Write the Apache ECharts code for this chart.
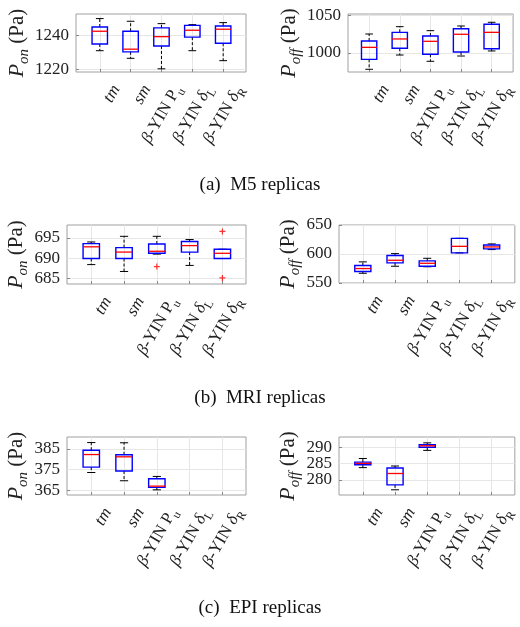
<!DOCTYPE html>
<html><head><meta charset="utf-8">
<script src="https://cdn.jsdelivr.net/npm/echarts@6/dist/echarts.min.js"></script>
<style>html,body{margin:0;padding:0;background:#fff}#c{width:520px;height:627px}</style>
</head><body><div id="c"></div>
<script>
// ---------- data ----------
const categories = ['tm', 'sm', 'β-YIN P', 'β-YIN δ', 'β-YIN δ'];
const categorySubs = ['', '', 'u', 'L', 'R'];
const captions = ['(a)  M5 replicas', '(b)  MRI replicas', '(c)  EPI replicas'];
const yNameSubs = ['on', 'off'];

// each box: [lower whisker, Q1, median, Q3, upper whisker]
const m5On = [
  [1231.1, 1235.1, 1242.6, 1245.1, 1250.1],
  [1226.6, 1230.4, 1232.0, 1242.6, 1248.5],
  [1220.4, 1233.9, 1239.4, 1244.6, 1247.1],
  [1231.1, 1239.1, 1243.2, 1246.1, 1246.5],
  [1225.2, 1235.5, 1243.8, 1245.7, 1247.7]
];
const m5Off = [
  [978.4, 991.6, 1007.5, 1015.9, 1025.2],
  [997.3, 1006.2, 1018.6, 1027.4, 1034.9],
  [989.0, 998.3, 1015.5, 1022.5, 1029.6],
  [996.0, 1001.3, 1024.8, 1032.2, 1035.8],
  [1002.7, 1005.7, 1027.4, 1038.1, 1040.7]
];
const mriOn = [
  [688.4, 689.9, 692.8, 693.6, 694.0],
  [686.7, 689.9, 691.5, 692.6, 695.4],
  [691.0, 691.2, 691.7, 693.5, 695.4],
  [688.2, 691.5, 693.1, 694.1, 694.6],
  [689.9, 689.9, 691.2, 692.2, 692.2]
];
const mriOff = [
  [566.8, 569.8, 574.9, 580.1, 586.4],
  [578.9, 584.7, 589.2, 597.3, 600.7],
  [578.0, 578.9, 584.0, 588.1, 592.6],
  [601.9, 601.9, 613.2, 627.0, 627.0],
  [607.6, 608.8, 612.2, 615.6, 617.4]
];
const epiOn = [
  [373.5, 376.1, 382.2, 384.3, 388.0],
  [369.5, 374.2, 381.1, 382.1, 387.9],
  [365.1, 366.3, 366.9, 370.5, 371.6]
];
const epiOff = [
  [283.8, 284.7, 285.1, 285.5, 286.6],
  [277.0, 278.5, 282.0, 283.7, 284.3],
  [289.1, 290.05, 290.5, 290.8, 291.4]
];
// outliers: [category number (1-based), value]
const mriOnOutliers = [[3, 687.9], [5, 696.6], [5, 685.1]];

const m5OnTicks = [1220, 1240];
const m5OffTicks = [1000, 1050];
const mriOnTicks = [685, 690, 695];
const mriOffTicks = [550, 600, 650];
const epiOnTicks = [365, 375, 385];
const epiOffTicks = [280, 285, 290];

// ---------- layout ----------
const serif = 'Liberation Serif';
const catPositions = categories.map((_, i) => i + 1);
const panels = [
  {data: m5On,  out: [], ticks: m5OnTicks,  sub: yNameSubs[0], grid: {left: 76,  top: 14,  width: 170, height: 58}, x: [0.23, 5.74], y: [1218.5, 1252.8], gap: 36},
  {data: m5Off, out: [], ticks: m5OffTicks, sub: yNameSubs[1], grid: {left: 348, top: 14,  width: 170, height: 58}, x: [0.31, 5.70], y: [974.8, 1051.7], gap: 41},
  {data: mriOn, out: mriOnOutliers, ticks: mriOnTicks, sub: yNameSubs[0], grid: {left: 67, top: 225, width: 179, height: 59}, x: [0.26, 5.72], y: [683.6, 698.2], gap: 31},
  {data: mriOff, out: [], ticks: mriOffTicks, sub: yNameSubs[1], grid: {left: 339, top: 225, width: 179, height: 58}, x: [0.26, 5.72], y: [550, 650], gap: 32},
  {data: epiOn, out: [], ticks: epiOnTicks, sub: yNameSubs[0], grid: {left: 67, top: 437, width: 179, height: 58}, x: [0.26, 5.72], y: [362.6, 390.7], gap: 31},
  {data: epiOff, out: [], ticks: epiOffTicks, sub: yNameSubs[1], grid: {left: 339, top: 437, width: 179, height: 58}, x: [0.26, 5.72], y: [275.4, 293.2], gap: 33}
];
const captionTops = [173, 386, 596];

function richMain(str) {
  let out = '', buf = '';
  for (const ch of str) {
    if ('βδ'.includes(ch)) { if (buf) { out += '{r|' + buf + '}'; buf = ''; } out += '{g|' + ch + '}'; }
    else buf += ch;
  }
  if (buf) out += '{r|' + buf + '}';
  return out;
}
function catLabel(v) {
  const i = Math.round(v) - 1;
  const main = categories[i], sub = categorySubs[i];
  if (!/[βδ]/.test(main)) return '{i|' + main + '}';
  return richMain(main) + (sub ? '{s|' + sub + '}' : '');
}
// label list so that the min/max-label overlap rule of ECharts keeps every tick label:
// the interior labels are listed after the end labels (and the last one repeated)
function labelValues(ticks) {
  if (ticks.length < 3) return ticks.slice();
  const ends = [ticks[0], ticks[ticks.length - 1]];
  const inner = ticks.slice(1, -1);
  return ends.concat(inner, inner[inner.length - 1]);
}
const xRich = {
  i: {fontFamily: serif, fontStyle: 'italic', fontSize: 17, lineHeight: 24, color: '#222'},
  g: {fontFamily: serif, fontStyle: 'italic', fontSize: 17, lineHeight: 24, color: '#222'},
  r: {fontFamily: serif, fontSize: 17, lineHeight: 24, color: '#222'},
  s: {fontFamily: serif, fontSize: 12, lineHeight: 12, verticalAlign: 'bottom', color: '#222'}
};
const nameRich = {
  p: {fontFamily: serif, fontStyle: 'italic', fontSize: 22, lineHeight: 28, color: '#222'},
  s: {fontFamily: serif, fontStyle: 'italic', fontSize: 15, lineHeight: 15, verticalAlign: 'bottom', color: '#222'},
  n: {fontFamily: serif, fontSize: 21, lineHeight: 28, color: '#222'}
};

function renderBox(params, api) {
  const x = api.value(0);
  const pLo = api.coord([x, api.value(1)]);
  const pQ1 = api.coord([x, api.value(2)]);
  const pMed = api.coord([x, api.value(3)]);
  const pQ3 = api.coord([x, api.value(4)]);
  const pHi = api.coord([x, api.value(5)]);
  const bw = api.size([0.5, 0])[0];
  const cw = bw / 2;
  const cx = pMed[0];
  const dash = {stroke: '#000', lineWidth: 1, lineDash: [3, 2], fill: null};
  const solid = {stroke: '#000', lineWidth: 1, fill: null};
  return {
    type: 'group',
    children: [
      {type: 'line', shape: {x1: cx, y1: pQ3[1], x2: cx, y2: pHi[1]}, style: dash},
      {type: 'line', shape: {x1: cx, y1: pQ1[1], x2: cx, y2: pLo[1]}, style: dash},
      {type: 'line', shape: {x1: cx - cw / 2, y1: pHi[1], x2: cx + cw / 2, y2: pHi[1]}, style: solid},
      {type: 'line', shape: {x1: cx - cw / 2, y1: pLo[1], x2: cx + cw / 2, y2: pLo[1]}, style: solid},
      {type: 'rect', shape: {x: cx - bw / 2, y: pQ3[1], width: bw, height: pQ1[1] - pQ3[1]},
        style: {stroke: '#0000ff', lineWidth: 1.4, fill: 'rgba(0,0,0,0)'}},
      {type: 'line', shape: {x1: cx - bw / 2, y1: pMed[1], x2: cx + bw / 2, y2: pMed[1]},
        style: {stroke: '#ff0000', lineWidth: 1.3}}
    ]
  };
}

const grids = [], xAxes = [], yAxes = [], series = [];
panels.forEach((p, i) => {
  grids.push(Object.assign({show: true, borderColor: '#a0a0a0', borderWidth: 1, backgroundColor: 'transparent'}, p.grid));
  xAxes.push({
    gridIndex: i, type: 'value', min: p.x[0], max: p.x[1],
    axisLine: {show: false},
    axisTick: {show: true, inside: true, length: 3, customValues: catPositions, lineStyle: {color: '#888'}},
    axisLabel: {show: true, customValues: catPositions, rotate: 60, margin: 5, verticalAlign: 'top',
      padding: [7, 0, 0, 0], hideOverlap: false, showMinLabel: true, showMaxLabel: true,
      formatter: catLabel, rich: xRich, color: '#222', fontFamily: serif, fontSize: 17},
    splitLine: {show: true, lineStyle: {color: '#e6e6e6', width: 1}}
  });
  yAxes.push({
    gridIndex: i, type: 'value', min: p.y[0], max: p.y[1],
    axisLine: {show: false},
    axisTick: {show: true, inside: true, length: 3, customValues: p.ticks, lineStyle: {color: '#888'}},
    axisLabel: {customValues: labelValues(p.ticks), fontFamily: serif, fontSize: 17, color: '#222', margin: 7,
      hideOverlap: false, showMinLabel: true, showMaxLabel: true,
      formatter: v => String(v)},
    splitLine: {show: true, lineStyle: {color: '#e6e6e6', width: 1}},
    name: '{p|P}{s|' + p.sub + '}{n| (Pa)}', nameLocation: 'middle', nameRotate: 90, nameGap: p.gap,
    nameTextStyle: {fontFamily: serif, fontSize: 21, color: '#222', rich: nameRich}
  });
  series.push({
    type: 'custom', xAxisIndex: i, yAxisIndex: i, renderItem: renderBox, z: 3,
    data: p.data.map((d, k) => [catPositions[k]].concat(d)),
    encode: {x: 0, y: [1, 2, 3, 4, 5]}
  });
  if (p.out.length) {
    series.push({
      type: 'scatter', xAxisIndex: i, yAxisIndex: i, z: 4, data: p.out,
      symbol: 'path://M4,0h2v10h-2zM0,4h10v2h-10z', symbolSize: 6,
      itemStyle: {color: '#ff0000'}
    });
  }
});

const chart = echarts.init(document.getElementById('c'), null, {renderer: 'canvas'});
chart.setOption({
  animation: false,
  backgroundColor: '#fff',
  title: captions.map((t, i) => ({
    text: t, left: 'center', top: captionTops[i], padding: 0,
    textStyle: {fontFamily: serif, fontSize: 19, fontWeight: 'normal', color: '#111', lineHeight: 24}
  })),
  grid: grids, xAxis: xAxes, yAxis: yAxes, series: series
});
</script></body></html>
